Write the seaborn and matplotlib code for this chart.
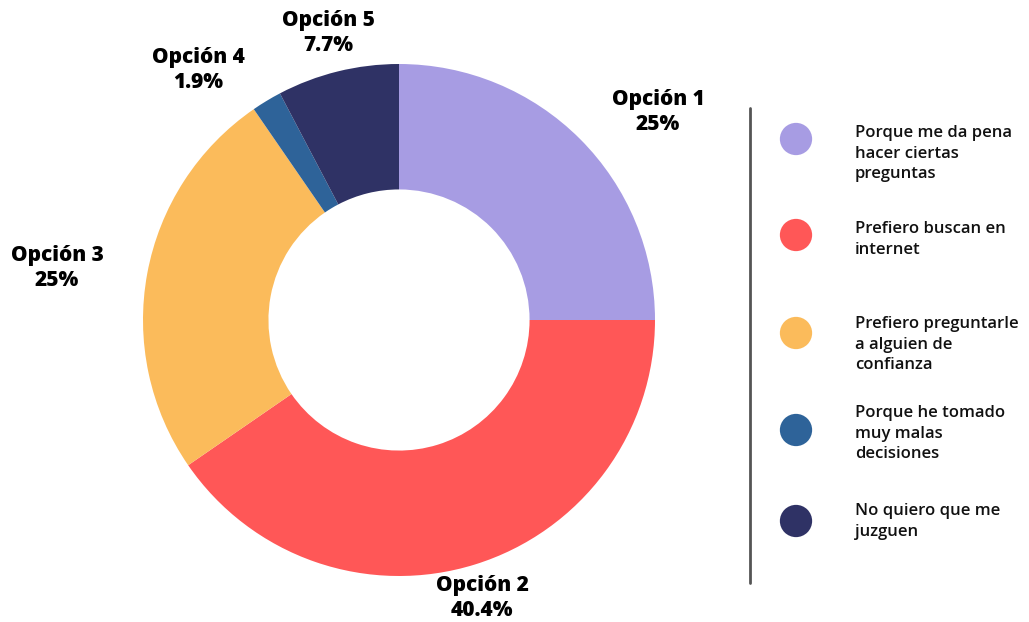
import matplotlib
matplotlib.use("Agg")
import matplotlib.pyplot as plt
import seaborn as sns

# data
options = ["Opción 1", "Opción 2", "Opción 3", "Opción 4", "Opción 5"]
shares = [25, 40.4, 25, 1.9, 7.7]
share_labels = ["25%", "40.4%", "25%", "1.9%", "7.7%"]
reasons = [
    "Porque me da pena\nhacer ciertas\npreguntas",
    "Prefiero buscan en\ninternet",
    "Prefiero preguntarle\na alguien de\nconfianza",
    "Porque he tomado\nmuy malas\ndecisiones",
    "No quiero que me\njuzguen",
]
colors = ["#A79CE3", "#FF5757", "#FBBB5B", "#2E6399", "#2F3265"]

W, H = 1029, 622

sns.set_theme(style="white")
plt.rcParams["font.family"] = ["Open Sans", "DejaVu Sans"]
palette = sns.color_palette(colors)

fig = plt.figure(figsize=(W / 100, H / 100), dpi=100)
ax = fig.add_axes([0, 0, 1, 1])


def Y(y):  # pixel row from top -> data y
    return H - y


radius = 256
ax.pie(shares, colors=palette, startangle=90, counterclock=False,
       radius=radius, center=(399, Y(320)), frame=True,
       wedgeprops=dict(width=radius * 0.49, linewidth=0))
ax.set_xlim(0, W)
ax.set_ylim(0, H)
ax.set_aspect("equal")
ax.set_axis_off()

# slice labels
label_pos = [(658, 112), (482, 598), (57, 268), (198, 70), (328, 33)]
for (x, y), opt, lab in zip(label_pos, options, share_labels):
    ax.text(x, Y(y), f"{opt}\n{lab}", ha="center", va="center",
            fontsize=15, fontweight="heavy", color="black", linespacing=1.25)

# divider
ax.plot([750, 750], [Y(108), Y(583)], color="#555555", lw=2)

# legend
legend_y = [139, 235, 333, 430, 521]
text_top = [125, 221, 316, 405, 503]
ax.scatter([796] * len(legend_y), [Y(v) for v in legend_y], s=540,
           c=palette, linewidths=0)
for ty, txt in zip(text_top, reasons):
    ax.text(855, Y(ty), txt, ha="left", va="top", fontsize=12,
            fontweight="semibold", color="#111111", linespacing=1.38)

fig.savefig("out.png", dpi=100)
plt.close()
